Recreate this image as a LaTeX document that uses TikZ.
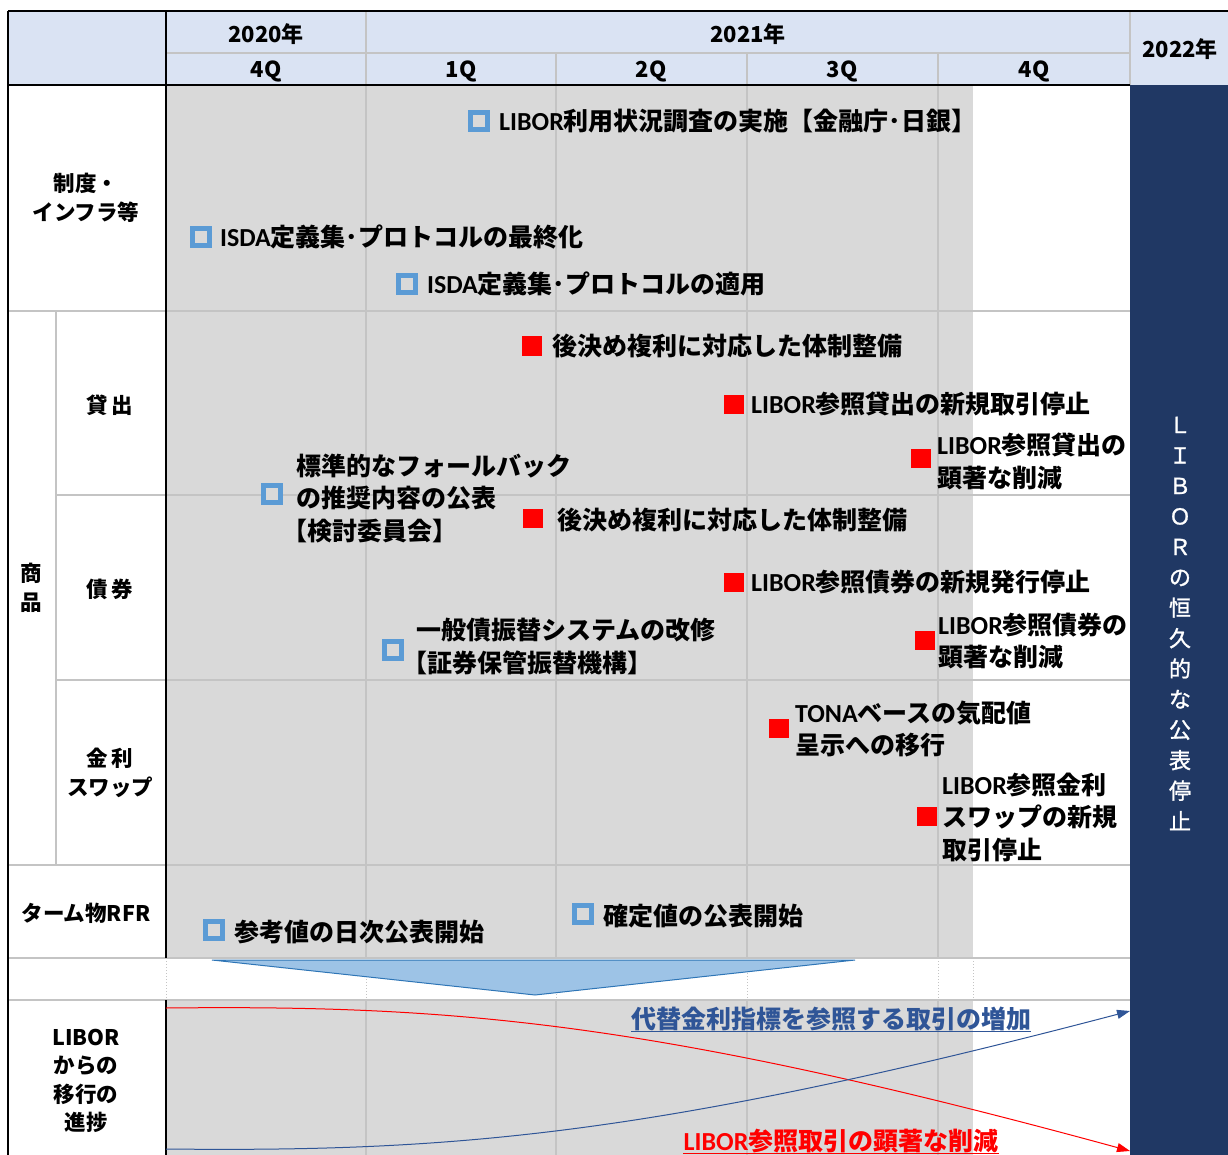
\documentclass[tikz,border=0pt]{standalone}
\usepackage{fontspec}
\setmainfont{Noto Sans CJK JP}
\newfontfamily\latf{Carlito}
\newfontfamily\vertf{Noto Sans CJK JP}[FakeBold=1.2]
\newcommand{\Lt}[1]{{\latf\fontsize{26}{32.5}\selectfont #1}}
\usetikzlibrary{arrows.meta}
\definecolor{hdrfill}{HTML}{DAE3F3}
\definecolor{greybg}{HTML}{D9D9D9}
\definecolor{gridc}{HTML}{C4C4C4}
\definecolor{navy}{HTML}{203864}
\definecolor{sqblue}{HTML}{5B9BD5}
\definecolor{arrblue}{HTML}{2F5597}
\definecolor{chevfill}{HTML}{9DC3E6}
\definecolor{chevline}{HTML}{2E75B6}
\definecolor{mred}{HTML}{FF0000}
\tikzset{
  gridline/.style={draw=gridc, line width=1.5pt},
  dotline/.style={draw=gridc, line width=1pt, dotted},
  blackline/.style={draw=black, line width=2pt},
  item/.style={anchor=west, inner sep=0pt, font=\fontsize{25}{32.5}\selectfont\bfseries, align=left, text=black},
  bsq/.style={draw=sqblue, line width=4.5pt, fill=greybg, minimum size=17pt, inner sep=0pt},
  rsq/.style={fill=mred, minimum width=20pt, minimum height=19pt, inner sep=0pt},
  hdr/.style={inner sep=0pt, font=\fontsize{22}{22}\selectfont\bfseries},
  lab/.style={inner sep=0pt, font=\fontsize{21.5}{28.5}\selectfont\bfseries, align=center},
  curvetext/.style={inner sep=0pt, font=\fontsize{25}{30}\selectfont\bfseries},
}
\begin{document}
\begin{tikzpicture}[x=1pt,y=-1pt]
\useasboundingbox (0,0) rectangle (1228,1155);
% fills
\fill[hdrfill] (8,11) rectangle (1228,85);
\fill[greybg] (166,85) rectangle (973,958);
\fill[greybg] (166,1000) rectangle (973,1155);
\fill[navy] (1130,85) rectangle (1228,1155);
% grid
\foreach \x in {366,556,747,938} {
  \draw[gridline] (\x,85) -- (\x,958);
  \draw[gridline] (\x,1000) -- (\x,1155);
  \draw[dotline] (\x,958) -- (\x,1000);
}
\draw[dotline] (166,958) -- (166,1000);
\draw[dotline] (973,958) -- (973,1000);
\draw[gridline] (8,311) -- (1130,311);
\draw[gridline] (56,495) -- (1130,495);
\draw[gridline] (56,680) -- (1130,680);
\draw[gridline] (8,865) -- (1130,865);
\draw[gridline] (8,958) -- (1130,958);
\draw[gridline] (8,1000) -- (1130,1000);
\draw[gridline] (56,311) -- (56,865);
% header grid
\draw[gridline] (166,53) -- (1130,53);
\draw[gridline] (366,11) -- (366,85);
\draw[gridline] (556,53) -- (556,85);
\draw[gridline] (747,53) -- (747,85);
\draw[gridline] (938,53) -- (938,85);
\draw[gridline] (1130,11) -- (1130,85);
% black frame lines
\draw[blackline] (8,11) -- (1228,11);
\draw[blackline] (8,11) -- (8,1155);
\draw[blackline] (8,85) -- (1130,85);
\draw[blackline] (166,11) -- (166,958);
\draw[blackline] (166,1000) -- (166,1155);
% header texts
\node[hdr] (y2020) at (266,34) {2020年};
\node[hdr] (y2021) at (748,34) {2021年};
\node[hdr] (y2022) at (1180,49) {2022年};
\node[hdr] (q4a) at (266,71) {4Q};
\node[hdr] (q1) at (461,71) {1Q};
\node[hdr] (q2) at (651,71) {2Q};
\node[hdr] (q3) at (842,71) {3Q};
\node[hdr] (q4b) at (1034,71) {4Q};
% left labels
\node[lab] (lseido) at (86,198) {制度・\\インフラ等};
\node[lab] (lshohin) at (31,588) {商\\品};
\node[lab] (lkashi) at (110,405) {貸\,出};
\node[lab] (lsaiken) at (110,589) {債\,券};
\node[lab] (lswap) at (110,773) {金\,利\\スワップ};
\node[lab] (lterm) at (86,913) {ターム物RFR};
\node[lab] (lprog) at (86,1081) {LIBOR\\からの\\移行の\\進捗};
% items
\node[bsq] (s1) at (479,121) {};
\node[item] (t1) at (499,121) {\Lt{LIBOR}利用状況調査の実施【金融庁･日銀】};
\node[bsq] (s2) at (201,237) {};
\node[item] (t2) at (220,237) {\Lt{ISDA}定義集･プロトコルの最終化};
\node[bsq] (s3) at (407,284) {};
\node[item] (t3) at (427,284) {\Lt{ISDA}定義集･プロトコルの適用};
\node[rsq] (s4) at (532,346) {};
\node[item] (t4) at (552,346) {後決め複利に対応した体制整備};
\node[rsq] (s5) at (734,404) {};
\node[item] (t5) at (751,404) {\Lt{LIBOR}参照貸出の新規取引停止};
\node[rsq] (s6) at (921,458) {};
\node[item] (t6) at (937,461.5) {\Lt{LIBOR}参照貸出の\\顕著な削減};
\node[bsq] (s7) at (272,494) {};
\node[item] (t7) at (296,498.5) {標準的なフォールバック\\の推奨内容の公表\\\hspace*{-14pt}【検討委員会】};
\node[rsq] (s8) at (533,518) {};
\node[item] (t8) at (557,520) {後決め複利に対応した体制整備};
\node[rsq] (s9) at (734,582) {};
\node[item] (t9) at (751,582) {\Lt{LIBOR}参照債券の新規発行停止};
\node[rsq] (s10) at (925,640) {};
\node[item] (t10) at (938,641) {\Lt{LIBOR}参照債券の\\顕著な削減};
\node[bsq] (s11) at (393,650) {};
\node[item] (t11) at (416,646.5) {一般債振替システムの改修\\\hspace*{-14pt}【証券保管振替機構】};
\node[rsq] (s12) at (779,728) {};
\node[item] (t12) at (795,729) {\Lt{TONA}ベースの気配値\\呈示への移行};
\node[rsq] (s13) at (927,816) {};
\node[item] (t13) at (942,817) {\Lt{LIBOR}参照金利\\スワップの新規\\取引停止};
\node[bsq] (s14) at (214,930) {};
\node[item] (t14) at (234,932) {参考値の日次公表開始};
\node[bsq] (s15) at (583,914) {};
\node[item] (t15) at (603,916) {確定値の公表開始};
% chevron
\draw[draw=chevline, fill=chevfill, line width=1pt] (212,960) -- (855,960) -- (535,995) -- cycle;
% curves
\coordinate (r0) at (166,1008);
\coordinate (r1) at (1130,1151);
\coordinate (b0) at (166,1149);
\coordinate (b1) at (1130,1011);
\draw[mred, line width=1pt, -{Triangle[length=13pt,width=9pt]}] (r0) .. controls (450,1005) and (650,1020) .. (r1);
\draw[arrblue, line width=1pt, -{Triangle[length=13pt,width=9pt]}] (b0) .. controls (450,1152) and (650,1137) .. (b1);
\node[curvetext, text=arrblue] (inc) at (831,1019) {代替金利指標を参照する取引の増加};
\draw[arrblue, line width=1.5pt] ([yshift=-3pt]inc.base west) -- ([yshift=-3pt]inc.base east);
\node[curvetext, text=mred] (dec) at (841,1141) {\Lt{LIBOR}参照取引の顕著な削減};
\draw[mred, line width=1.5pt] ([yshift=-3pt]dec.base west) -- ([yshift=-3pt]dec.base east);
% vertical text
\node[inner sep=0pt, text=white, align=center, font=\vertf\fontsize{22}{30.5}\selectfont] (stop) at (1180,623.5) {Ｌ\\Ｉ\\Ｂ\\Ｏ\\Ｒ\\の\\恒\\久\\的\\な\\公\\表\\停\\止};
\end{tikzpicture}
\end{document}
